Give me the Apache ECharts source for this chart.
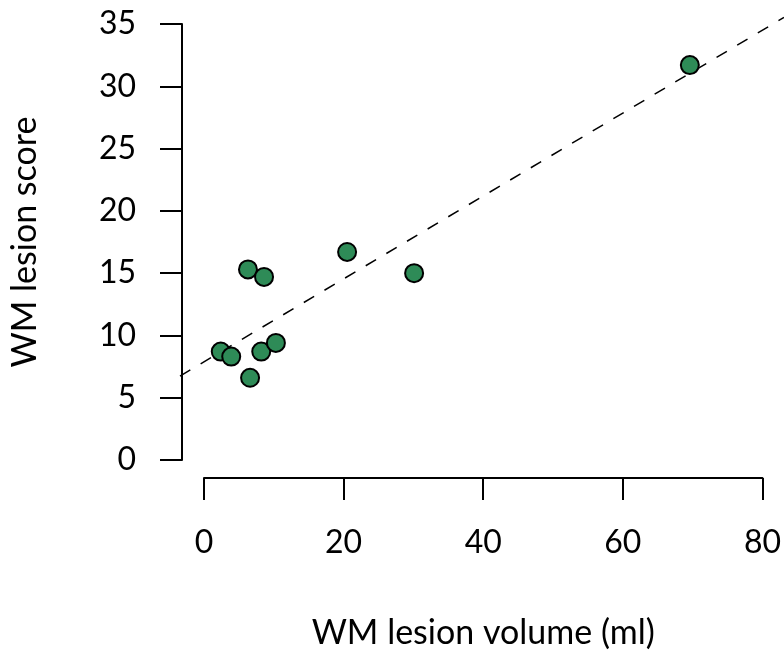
<!DOCTYPE html>
<html>
<head>
<meta charset="utf-8">
<script src="https://cdn.jsdelivr.net/npm/echarts@6/dist/echarts.min.js"></script>
<style>
  html, body { margin: 0; padding: 0; background: #ffffff; }
  #chart { width: 784px; height: 655px; }
</style>
</head>
<body>
<div id="chart"></div>
<script>
// WM lesion volume (ml) and WM lesion score per subject
const lesionVolume = [2.4, 3.9, 6.3, 6.6, 8.2, 8.6, 10.3, 20.5, 30.1, 69.6];
const lesionScore  = [8.7, 8.3, 15.3, 6.6, 8.7, 14.7, 9.4, 16.7, 15.0, 31.7];

// Axis tick values
const xTicks = [0, 20, 40, 60, 80];
const yTicks = [0, 5, 10, 15, 20, 25, 30, 35];

// Plot-region extent: axis range padded by 4% on each side
function padded(ticks) {
  const lo = ticks[0], hi = ticks[ticks.length - 1], p = 0.04 * (hi - lo);
  return [lo - p, hi + p];
}
const [xLeft, xRight] = padded(xTicks);
const [yBottom, yTop] = padded(yTicks);

// Least-squares fit of score on volume
function fitLine(xs, ys) {
  const n = xs.length;
  const mx = xs.reduce((a, b) => a + b, 0) / n;
  const my = ys.reduce((a, b) => a + b, 0) / n;
  let sxy = 0, sxx = 0;
  for (let i = 0; i < n; i++) {
    sxy += (xs[i] - mx) * (ys[i] - my);
    sxx += (xs[i] - mx) * (xs[i] - mx);
  }
  const slope = sxy / sxx;
  return { slope, intercept: my - slope * mx };
}
const fit = fitLine(lesionVolume, lesionScore);
const fitData = [xLeft, xRight].map(x => [x, fit.intercept + fit.slope * x]);

const points = lesionVolume.map((v, i) => [v, lesionScore[i]]);

const FONT = 'Lato';
const TICK_FS = 32;
const NAME_FS = 34;

const axisStroke = { color: '#000', width: 2 };

const chart = echarts.init(document.getElementById('chart'), null, { renderer: 'canvas' });
chart.setOption({
  animation: false,
  backgroundColor: '#ffffff',
  grid: [
    // full plot region (used by the fitted line)
    { left: 180, top: 6, width: 605, height: 475, containLabel: false },
    // data range region carrying the drawn axes
    { left: 202, top: 24, width: 561, height: 439, containLabel: false }
  ],
  xAxis: [
    {
      gridIndex: 0, type: 'value', min: xLeft, max: xRight,
      show: false
    },
    {
      gridIndex: 1, type: 'value',
      min: xTicks[0], max: xTicks[xTicks.length - 1], interval: xTicks[1] - xTicks[0],
      offset: 18,
      axisLine: { show: true, onZero: false, lineStyle: axisStroke },
      axisTick: { show: true, inside: false, length: 22, lineStyle: axisStroke },
      axisLabel: { color: '#000', fontFamily: FONT, fontSize: TICK_FS, margin: 49 },
      splitLine: { show: false },
      name: 'WM lesion volume (ml)',
      nameLocation: 'middle',
      nameGap: 138,
      nameTextStyle: { color: '#000', fontFamily: FONT, fontSize: NAME_FS }
    }
  ],
  yAxis: [
    {
      gridIndex: 0, type: 'value', min: yBottom, max: yTop,
      show: false
    },
    {
      gridIndex: 1, type: 'value',
      min: yTicks[0], max: yTicks[yTicks.length - 1], interval: yTicks[1] - yTicks[0],
      offset: 22,
      axisLine: { show: true, onZero: false, lineStyle: axisStroke },
      axisTick: { show: true, inside: false, length: 22, lineStyle: axisStroke },
      axisLabel: { color: '#000', fontFamily: FONT, fontSize: TICK_FS, margin: 46 },
      splitLine: { show: false },
      name: 'WM lesion score',
      nameLocation: 'middle',
      nameGap: 140,
      nameRotate: 90,
      nameTextStyle: { color: '#000', fontFamily: FONT, fontSize: NAME_FS }
    }
  ],
  series: [
    {
      type: 'line',
      xAxisIndex: 0, yAxisIndex: 0,
      data: fitData,
      clip: false,
      showSymbol: false,
      symbol: 'none',
      silent: true,
      lineStyle: { color: '#000', width: 1.5, type: [12, 12] },
      z: 1
    },
    {
      type: 'scatter',
      xAxisIndex: 1, yAxisIndex: 1,
      data: points,
      symbol: 'circle',
      symbolSize: 18,
      itemStyle: { color: '#2E8B57', borderColor: '#000', borderWidth: 2, opacity: 1 },
      z: 2
    }
  ]
});
</script>
</body>
</html>
